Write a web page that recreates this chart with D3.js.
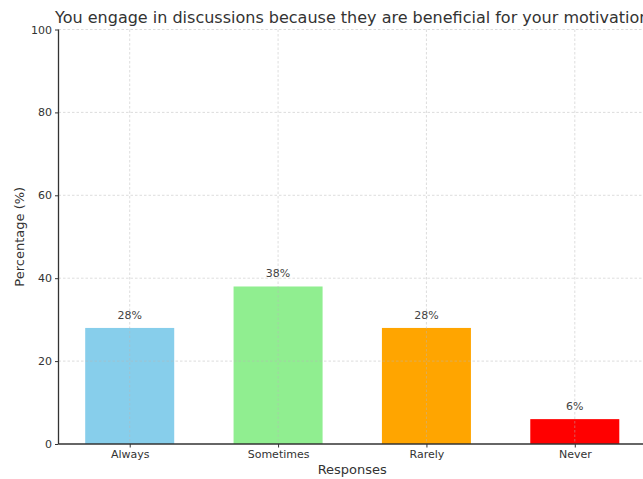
<!DOCTYPE html>
<html>
<head>
<meta charset="utf-8">
<script src="https://cdn.jsdelivr.net/npm/d3@7/dist/d3.min.js"></script>
<style>
  html, body { margin: 0; padding: 0; background: #fff; overflow: hidden; }
  svg { display: block; font-family: "DejaVu Sans", sans-serif; }
</style>
</head>
<body>
<svg id="chart" width="643" height="479"></svg>
<script>
// Survey responses and their shares (%)
const categories = ["Always", "Sometimes", "Rarely", "Never"];
const percentages = [28, 38, 28, 6];
const barColors = ["#87CEEB", "#90EE90", "#FFA500", "#FF0000"];
const yTicks = [0, 20, 40, 60, 80, 100];
const titleText = "You engage in discussions because they are beneficial for your motivation";
const xLabel = "Responses";
const yLabel = "Percentage (%)";

const svg = d3.select("#chart");
const plotLeft = 58.5, plotRight = 646, plotTop = 29.5, plotBottom = 444;
const barWidth = 0.6;

// Linear x scale over category index, with matplotlib-like margins
const x = d3.scaleLinear().domain([-0.48, 3.48]).range([plotLeft, plotRight]);
const y = d3.scaleLinear().domain([0, 100]).range([plotBottom, plotTop]);

// Bars
svg.append("g").selectAll("rect").data(percentages).join("rect")
  .attr("x", (d, i) => x(i - barWidth / 2))
  .attr("width", (d, i) => x(i + barWidth / 2) - x(i - barWidth / 2))
  .attr("y", d => y(d))
  .attr("height", d => y(0) - y(d))
  .attr("fill", (d, i) => barColors[i]);

// Dashed grid lines, drawn over the bars
const grid = svg.append("g").attr("stroke", "#b8b8b8").attr("stroke-opacity", 0.6)
  .attr("stroke-width", 0.8).attr("stroke-dasharray", "2.5,2");
grid.selectAll("line.h").data(yTicks.slice(1)).join("line").attr("class", "h")
  .attr("x1", plotLeft).attr("x2", plotRight)
  .attr("y1", d => y(d)).attr("y2", d => y(d));
grid.selectAll("line.v").data(categories).join("line").attr("class", "v")
  .attr("x1", (d, i) => x(i)).attr("x2", (d, i) => x(i))
  .attr("y1", plotTop).attr("y2", plotBottom);

// Value labels
svg.append("g").selectAll("text").data(percentages).join("text")
  .attr("x", (d, i) => x(i))
  .attr("y", d => y(d) - 9)
  .attr("text-anchor", "middle")
  .attr("font-size", 11)
  .attr("fill", "#444")
  .text(d => d + "%");

// Y axis
const yAxis = d3.axisLeft(y).tickValues(yTicks).tickSize(3.5).tickPadding(3);
const gy = svg.append("g").attr("transform", `translate(${plotLeft},0)`).call(yAxis);
gy.select(".domain").attr("stroke", "#333").attr("stroke-width", 1.3).attr("d", `M0,${plotTop}V${plotBottom}`);
gy.selectAll(".tick line").attr("stroke", "#333");
gy.selectAll(".tick text").attr("font-size", 11).attr("fill", "#333")
  .attr("font-family", "DejaVu Sans, sans-serif");

// X axis
const xAxis = d3.axisBottom(x).tickValues(d3.range(categories.length))
  .tickFormat(i => categories[i]).tickSize(3.5).tickPadding(3);
const gx = svg.append("g").attr("transform", `translate(0,${plotBottom})`).call(xAxis);
gx.select(".domain").attr("stroke", "#333").attr("stroke-width", 1.3).attr("d", `M${plotLeft},0H${plotRight}`);
gx.selectAll(".tick line").attr("stroke", "#333");
gx.selectAll(".tick text").attr("font-size", 11).attr("fill", "#333")
  .attr("font-family", "DejaVu Sans, sans-serif");

// Axis titles
svg.append("text")
  .attr("x", (plotLeft + plotRight) / 2).attr("y", 474)
  .attr("text-anchor", "middle").attr("font-size", 13).attr("fill", "#333")
  .text(xLabel);
svg.append("text")
  .attr("transform", `translate(24,${(plotTop + plotBottom) / 2}) rotate(-90)`)
  .attr("text-anchor", "middle").attr("font-size", 13).attr("fill", "#333")
  .text(yLabel);

// Chart title
svg.append("text")
  .attr("x", (plotLeft + plotRight) / 2).attr("y", 23)
  .attr("text-anchor", "middle").attr("font-size", 16).attr("fill", "#333")
  .text(titleText);
</script>
</body>
</html>
